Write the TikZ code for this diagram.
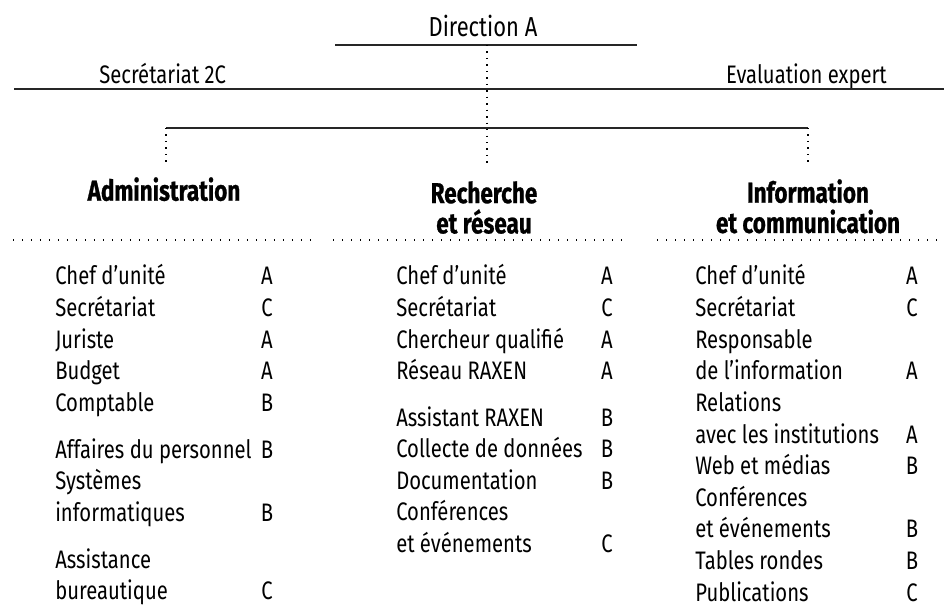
\documentclass[tikz,border=0pt]{standalone}
\usepackage{fontspec}
\setmainfont{Fira Sans}[FakeStretch=0.8]
\newfontfamily\headfont{Fira Sans}[FakeStretch=0.78,FakeBold=0.8]

\begin{document}
\begin{tikzpicture}
  [x=0.025cm,y=-0.025cm,
   every node/.style={inner sep=0pt,font=\fontsize{18}{22}\selectfont},
   head/.style={anchor=north,align=center,font=\headfont\fontsize{20.5}{21.5}\selectfont\bfseries},
   item/.style={anchor=base west},
   grade/.style={anchor=base},
   rule/.style={line width=0.9pt,draw=black!85},
   dots/.style={line width=1pt,dash pattern=on 1pt off 5.4pt},
   drop/.style={line width=1pt,dash pattern=on 1pt off 3.6pt}]
  \useasboundingbox (0,0) rectangle (944,615);

  % top of the chart
  \node[anchor=base,font=\fontsize{19.5}{22}\selectfont] (dir) at (483,37) {Direction A};
  \node[anchor=base west] (sec) at (99,84) {Secrétariat 2C};
  \node[anchor=base east] (eva) at (887,84) {Evaluation expert};

  \coordinate (dl) at (335,45);
  \coordinate (dm) at (487,45);
  \coordinate (dr) at (637,45);
  \coordinate (sl) at (14,89);
  \coordinate (sr) at (944,89);
  \coordinate (b1) at (166,128);
  \coordinate (b2) at (487,128);
  \coordinate (b3) at (808,128);
  \coordinate (d1) at (166,163);
  \coordinate (d2) at (487,163);
  \coordinate (d3) at (808,163);

  \draw[rule] (dl) -- (dr);
  \draw[rule] (sl) -- (sr);
  \draw[rule] (b1) -- (b3);
  \draw[drop] (dm) -- (d2);
  \foreach \from/\to in {b1/d1, b3/d3}
    \draw[drop] (\from) -- (\to);

  % units
  \node[head] (adm) at (164,177) {Administration};
  \node[head] (rech) at (484,181) {Recherche\\et réseau};
  \node[head] (info) at (808,179) {Information\\et communication};

  \coordinate (u1l) at (13,240);  \coordinate (u1r) at (313,240);
  \coordinate (u2l) at (333,240); \coordinate (u2r) at (628,240);
  \coordinate (u3l) at (657,240); \coordinate (u3r) at (944,240);
  \foreach \from/\to in {u1l/u1r, u2l/u2r, u3l/u3r}
    \draw[dots] (\from) -- (\to);

  % Administration
  \foreach \i/\y/\txt/\g in {1/285/Chef d'unité/A, 2/316.6/Secrétariat/C,
      3/348.2/Juriste/A, 4/379.8/Budget/A, 5/411.4/Comptable/B,
      6/458/Affaires du personnel/B, 7/489.6/Systèmes/,
      8/521.2/informatiques/B, 9/568/Assistance/, 10/599.6/bureautique/C}
  {
    \node[item] (a\i) at (55,\y) {\txt};
    \node[grade] (ag\i) at (267,\y) {\g};
  }

  % Recherche et reseau
  \foreach \i/\y/\txt/\g in {1/285/Chef d'unité/A, 2/316.6/Secrétariat/C,
      3/348.2/Chercheur qualifié/A, 4/379.8/Réseau RAXEN/A,
      5/426/Assistant RAXEN/B, 6/457.6/Collecte de données/B,
      7/489.2/Documentation/B, 8/520.8/Conférences/,
      9/552.4/et événements/C}
  {
    \node[item] (r\i) at (396,\y) {\txt};
    \node[grade] (rg\i) at (607,\y) {\g};
  }

  % Information et communication
  \foreach \i/\y/\txt/\g in {1/285/Chef d'unité/A, 2/316.6/Secrétariat/C,
      3/348.2/Responsable/, 4/379.8/de l'information/A,
      5/411.4/Relations/, 6/443/avec les institutions/A,
      7/474.6/Web et médias/B, 8/506.2/Conférences/,
      9/537.8/et événements/B, 10/569.4/Tables rondes/B,
      11/601/Publications/C}
  {
    \node[item] (i\i) at (695,\y) {\txt};
    \node[grade] (ig\i) at (912,\y) {\g};
  }
\end{tikzpicture}
\end{document}
